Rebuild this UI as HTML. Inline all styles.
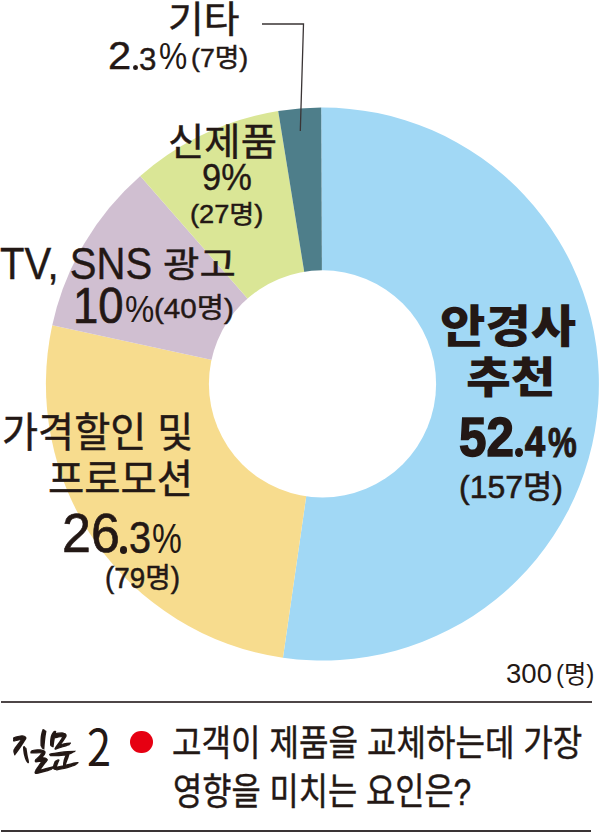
<!DOCTYPE html>
<html lang="ko">
<head>
<meta charset="utf-8">
<style>
html,body{margin:0;padding:0;background:#fff;}
body{width:600px;height:832px;position:relative;overflow:hidden;font-family:"Liberation Sans","Noto Sans CJK KR",sans-serif;color:#231815;}
#chart{position:absolute;left:0;top:0;}
.t{position:absolute;white-space:nowrap;line-height:1;transform-origin:0 0;}
.pd{position:absolute;border-radius:50%;background:#231815;}
.hr{position:absolute;left:1px;height:1.6px;background:#3a3435;}
</style>
</head>
<body>
<svg id="chart" width="600" height="832" viewBox="0 0 600 832">
    <path fill="#A1D8F5" d="M322.4,384.05 L321.19,107.55 A276.5,276.5 0 1 1 282.96,657.72 Z"/>
  <path fill="#F7DC8E" d="M322.4,384.05 L282.96,657.72 A276.5,276.5 0 0 1 52.25,325.15 Z"/>
  <path fill="#D0BFD1" d="M322.4,384.05 L52.25,325.15 A276.5,276.5 0 0 1 140.27,176.01 Z"/>
  <path fill="#DAE696" d="M322.4,384.05 L140.27,176.01 A276.5,276.5 0 0 1 278.19,111.11 Z"/>
  <path fill="#4E7E8A" d="M322.4,384.05 L278.19,111.11 A276.5,276.5 0 0 1 321.19,107.55 Z"/>
  <circle cx="322.5" cy="383.9" r="113.6" fill="#fff"/>
  <polyline points="262,24 303.5,24 300.3,131" fill="none" stroke="#3a3435" stroke-width="1.3"/>
</svg>
<div class="t" style="left:168.22px;top:2.01px;font-size:37.39px;transform:scaleX(1.04);-webkit-text-stroke:0.45px #231815;">기타</div>
<div class="t" style="left:108.26px;top:37.13px;font-size:38.97px;transform:scaleX(1.07);-webkit-text-stroke:0.4px #231815;">2</div>
<div class="t" style="left:139.31px;top:44.05px;font-size:31.82px;transform:scaleX(0.984);-webkit-text-stroke:0.4px #231815;">3</div>
<div class="t" style="left:159.48px;top:38.41px;font-size:37.18px;transform:scaleX(0.854);">%</div>
<div class="t" style="left:191.29px;top:45.25px;font-size:26.51px;transform:scaleX(1.008);-webkit-text-stroke:0.45px #231815;">(7명)</div>
<div class="t" style="left:168.26px;top:123.53px;font-size:37.92px;transform:scaleX(1.042);-webkit-text-stroke:0.45px #231815;">신제품</div>
<div class="t" style="left:201.94px;top:158.82px;font-size:37.75px;transform:scaleX(0.912);-webkit-text-stroke:0.4px #231815;">9%</div>
<div class="t" style="left:190.44px;top:201.5px;font-size:25.56px;transform:scaleX(1.065);-webkit-text-stroke:0.45px #231815;">(27명)</div>
<div class="t" style="left:0.14px;top:242.69px;font-size:43.63px;transform:scaleX(0.918);-webkit-text-stroke:0.4px #231815;">TV, SNS</div>
<div class="t" style="left:162.55px;top:246.99px;font-size:35.32px;transform:scaleX(1.121);-webkit-text-stroke:0.45px #231815;">광고</div>
<div class="t" style="left:72.61px;top:280.74px;font-size:50.01px;transform:scaleX(0.909);-webkit-text-stroke:0.7px #231815;">10</div>
<div class="t" style="left:125.23px;top:290.83px;font-size:37.14px;transform:scaleX(0.887);">%</div>
<div class="t" style="left:154.13px;top:294.97px;font-size:27.94px;transform:scaleX(1.06);-webkit-text-stroke:0.45px #231815;">(40명)</div>
<div class="t" style="left:1.96px;top:412.5px;font-size:41.06px;transform:scaleX(0.955);-webkit-text-stroke:0.45px #231815;">가격할인 및</div>
<div class="t" style="left:48.2px;top:458.79px;font-size:40.0px;transform:scaleX(0.986);-webkit-text-stroke:0.45px #231815;">프로모션</div>
<div class="t" style="left:61.57px;top:505.17px;font-size:56.21px;transform:scaleX(0.924);-webkit-text-stroke:0.7px #231815;">26</div>
<div class="t" style="left:128.78px;top:516.4px;font-size:43.66px;transform:scaleX(0.907);-webkit-text-stroke:0.5px #231815;">3</div>
<div class="t" style="left:152.2px;top:517.14px;font-size:42.91px;transform:scaleX(0.782);">%</div>
<div class="t" style="left:105.34px;top:564.44px;font-size:28.87px;transform:scaleX(0.962);-webkit-text-stroke:0.5px #231815;">(79명)</div>
<div class="t" style="left:440.01px;top:305.01px;font-size:45.14px;font-weight:900;transform:scaleX(1.094);">안경사</div>
<div class="t" style="left:465.81px;top:357.01px;font-size:43.61px;font-weight:900;transform:scaleX(1.117);">추천</div>
<div class="t" style="left:458.71px;top:408.81px;font-size:56.24px;font-weight:700;transform:scaleX(0.878);-webkit-text-stroke:1.6px #231815;">52</div>
<div class="t" style="left:525.2px;top:420.43px;font-size:42.84px;font-weight:700;transform:scaleX(0.842);-webkit-text-stroke:1.4px #231815;">4</div>
<div class="t" style="left:547.56px;top:421.09px;font-size:43.42px;font-weight:700;transform:scaleX(0.744);-webkit-text-stroke:1.0px #231815;">%</div>
<div class="t" style="left:458.94px;top:471.3px;font-size:32.19px;transform:scaleX(0.993);-webkit-text-stroke:0.6px #231815;">(157명)</div>
<div class="t" style="left:506.34px;top:659.22px;font-size:28.21px;transform:scaleX(0.978);">300</div>
<div class="t" style="left:556.27px;top:661.8px;font-size:24.95px;transform:scaleX(0.972);">(명)</div>
<div class="t" style="left:172.03px;top:726.2px;font-size:36.21px;transform:scaleX(0.886);-webkit-text-stroke:0.45px #231815;">고객이 제품을 교체하는데 가장</div>
<div class="t" style="left:173.02px;top:773.53px;font-size:37.02px;transform:scaleX(0.858);-webkit-text-stroke:0.45px #231815;">영향을 미치는 요인은?</div>
<div class="t" id="jil" style="left:10.6px;top:725.35px;font-size:47.27px;font-weight:700;font-family:'Noto Sans CJK KR',sans-serif;transform:scaleX(0.794);">질문</div>
<div class="t" style="left:87.28px;top:719.67px;font-size:49.88px;font-family:'Noto Sans CJK KR',sans-serif;transform:scaleX(0.867);">2</div>
<div class="pd" style="left:132.50px;top:64.70px;width:5.6px;height:5.8px;"></div>
<div class="pd" style="left:119.60px;top:546.05px;width:7.2px;height:7.7px;"></div>
<div class="pd" style="left:515.20px;top:447.70px;width:8.2px;height:9.6px;"></div>
<div class="dot" style="position:absolute;left:130.45000000000002px;top:730.75px;width:22.7px;height:22.7px;border-radius:50%;background:#E60012;"></div>
<div class="hr" style="top:701.2px;width:591px;background:#4d4647;"></div>
<div class="hr" style="top:830px;width:590px;height:2px;"></div>
<script>
(function(){
  try {
    var s=document.createElement('span');
    s.textContent='질문질문 mmmwwwiii 2';
    s.style.cssText='position:absolute;left:-9999px;top:0;font-size:72px;white-space:nowrap;font-family:monospace';
    document.body.appendChild(s);
    var w0=s.getBoundingClientRect().width;
    s.style.fontFamily="'Nanum Brush Script',monospace";
    var w1=s.getBoundingClientRect().width;
    document.body.removeChild(s);
    if (Math.abs(w1-w0)>1) {
      document.getElementById('jil').setAttribute('style', "left:12.27px;top:727.54px;font-size:49.83px;font-family:'Nanum Brush Script','Noto Sans CJK KR',sans-serif;transform:scaleX(1.235);-webkit-text-stroke:1.2px #231815;");
    }
  } catch(e) {}
})();
</script>
</body>
</html>
